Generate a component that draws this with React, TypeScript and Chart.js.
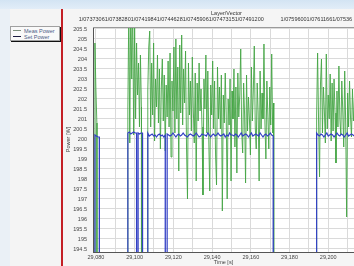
import React, { useEffect, useRef } from 'react';
import { Chart, registerables } from 'chart.js';

Chart.register(...registerables);

// ---- axis ranges / ticks ----
const X_MIN = 29078.5;
const X_MAX = 29213.3;
const Y_MIN = 194.35;
const Y_MAX = 205.6;
const MEAS_STEP = 0.5; // seconds between measured samples
const SET_STEP = 0.75; // seconds between set-point samples
const OFF_VALUE = 0; // laser off -> power drops to 0

const yTickValues = [194.5, 195, 195.5, 196, 196.5, 197, 197.5, 198, 198.5, 199, 199.5, 200, 200.5, 201, 201.5, 202, 202.5, 203, 203.5, 204, 204.5, 205, 205.5];
const xTickValues = [29080, 29090, 29100, 29110, 29120, 29130, 29140, 29150, 29160, 29170, 29180, 29190, 29200, 29210];
const xLabeledTicks = [29080, 29100, 29120, 29140, 29160, 29180, 29200];

const chartTitle = 'Layer/Vector';
const topLabels = ['1/07373061/07382801/07419841/07446281/07459061/07473151/07491200', '1/07596001/07611661/07536'];
const topLabelPos = [29118.9, 29175.4];

const seriesNames = ['Meas Power', 'Set Power'];

// ---- Meas Power (green) segments ----
const measStarts = [29079.5, 29096.5, 29106.8, 29194.0];
const measA = [204.8, 202.5, 200.8];
const measB = [201.5, 206.5, 199.8, 207.0, 203.0, 206.8, 200.2, 205.6, 201.0, 204.8, 202.2, 203.8, 200.6, 204.2, 201.6];
const measC = [
  202.4, 204.6, 205.4, 200.6, 203.8, 201.2, 204.8, 199.9, 203.0, 201.6,
  204.2, 200.8, 203.5, 199.5, 202.6, 204.0, 200.9, 203.2, 199.4, 202.7,
  201.1, 203.9, 200.6, 204.3, 199.1, 202.9, 201.4, 204.6, 200.3, 205.0,
  201.0, 203.6, 198.4, 204.7, 201.3, 205.2, 200.7, 203.5, 201.8, 204.4,
  199.6, 197.0, 203.8, 201.2, 202.9, 200.4, 204.1, 201.5, 199.8, 203.3,
  197.9, 202.8, 200.9, 203.8, 201.4, 202.5, 200.6, 197.2, 203.0, 201.5,
  204.2, 200.3, 203.4, 199.9, 197.4, 202.7, 201.2, 203.9, 200.5, 202.9,
  199.2, 197.7, 203.6, 201.0, 202.6, 200.5, 203.2, 196.4, 202.2, 200.8,
  203.3, 201.2, 197.0, 202.0, 200.7, 203.0, 197.9, 202.4, 201.0, 203.5,
  199.6, 202.6, 198.3, 203.3, 201.1, 202.2, 204.5, 200.4, 199.3, 202.8,
  201.2, 197.8, 203.2, 200.4, 202.1, 201.0, 199.2, 203.6, 200.9, 202.4,
  204.65, 200.6, 199.5, 202.8, 201.3, 197.9, 203.4, 200.5, 202.3, 201.0,
  204.75, 200.8, 199.0, 202.9, 201.2, 199.5, 202.6, 200.7, 204.25, 200.3,
  201.8,
];
const measD = [
  201.2, 204.3, 200.9, 198.1, 202.8, 204.0, 200.3, 202.6, 201.4, 199.8,
  204.25, 200.5, 202.2, 201.0, 203.25, 199.9, 202.8, 200.4, 203.0, 201.3,
  198.8, 202.4, 200.6, 203.65, 201.0, 200.2, 202.9, 201.4, 199.6, 203.4,
  200.8, 196.1, 202.3, 200.6, 202.9, 201.1, 200.1, 202.5, 200.9, 202.0,
];

// ---- Set Power (blue) segments ----
const setStarts = [29079.5, 29096.5, 29101.8, 29106.8, 29116.8, 29194.0];
const setA = [200.2, 200.15, 200.1, 200.1];
const setB1 = [200.3, 200.35, 200.25, 200.3, 200.35, 200.3, 200.3];
const setB2 = [200.3, 200.25, 200.3, 200.3];
const setC1 = [200.3, 200.15, 200.2, 200.25, 200.15, 200.2, 200.1, 200.2, 200.25, 200.15, 200.2, 200.1, 200.2];
const setC2 = [
  200.25, 200.2, 200.15, 200.2, 200.3, 200.2, 200.1, 200.2, 200.25, 200.15,
  200.2, 200.3, 200.2, 200.15, 200.1, 200.2, 200.25, 200.2, 200.15, 200.2,
  200.3, 200.2, 200.1, 200.15, 200.25, 200.2, 200.2, 200.15, 200.3, 200.2,
  200.1, 200.2, 200.25, 200.15, 200.2, 200.3, 200.2, 200.15, 200.2, 200.25,
  200.1, 200.2, 200.15, 200.3, 200.2, 200.2, 200.15, 200.25, 200.2, 200.1,
  200.2, 200.3, 200.15, 200.2, 200.25, 200.2, 200.1, 200.2, 200.3, 200.15,
  200.2, 200.25, 200.2, 200.15, 200.3, 200.2, 200.1, 200.2, 200.25, 200.15,
  200.2, 200.3, 200.2, 200.15,
];
const setD = [
  200.3, 200.2, 200.15, 200.25, 200.2, 200.1, 200.2, 200.3, 200.15, 200.2,
  200.25, 200.2, 200.1, 200.2, 200.3, 200.2, 200.15, 200.25, 200.2, 200.1,
  200.2, 200.3, 200.15, 200.2, 200.25, 200.2, 200.15,
];

function buildSeries(starts: number[], segs: number[][], step: number) {
  const pts: { x: number; y: number }[] = [];
  segs.forEach((vals, k) => {
    const t0 = starts[k];
    if (t0 > X_MIN) pts.push({ x: t0 - 0.05, y: OFF_VALUE });
    vals.forEach((v, i) => pts.push({ x: t0 + i * step, y: v }));
    const tEnd = t0 + (vals.length - 1) * step;
    if (tEnd < X_MAX) pts.push({ x: tEnd + 0.05, y: OFF_VALUE });
  });
  return pts;
}

const FONT = '"Liberation Sans", Arial, sans-serif';

const plotDecor = {
  id: 'plotDecor',
  beforeDraw(chart: any) {
    const { ctx, chartArea } = chart;
    ctx.save();
    ctx.fillStyle = '#ffffff';
    ctx.fillRect(chartArea.left, chartArea.top, chartArea.right - chartArea.left, chartArea.bottom - chartArea.top);
    ctx.restore();
  },
  afterDraw(chart: any) {
    const { ctx, chartArea } = chart;
    const xs = chart.scales.x;
    ctx.save();
    ctx.strokeStyle = '#9a9a9a';
    ctx.lineWidth = 1;
    ctx.beginPath();
    ctx.moveTo(chartArea.left, chartArea.top + 0.5);
    ctx.lineTo(chartArea.right, chartArea.top + 0.5);
    ctx.stroke();
    ctx.fillStyle = '#333';
    ctx.textBaseline = 'middle';
    ctx.font = '5.5px ' + FONT;
    ctx.textAlign = 'center';
    ctx.fillText(chartTitle, (chartArea.left + chartArea.right) / 2 + 3, 4);
    ctx.fillText(topLabels[0], xs.getPixelForValue(topLabelPos[0]), 10.5);
    ctx.textAlign = 'left';
    ctx.fillText(topLabels[1], xs.getPixelForValue(topLabelPos[1]), 10.5);
    ctx.restore();
  },
};

function PowerChart() {
  const ref = useRef<HTMLCanvasElement>(null);
  useEffect(() => {
    if (!ref.current) return;
    const chart = new Chart(ref.current, {
      type: 'line',
      data: {
        datasets: [
          {
            label: seriesNames[1],
            data: buildSeries(setStarts, [setA, setB1, setB2, setC1, setC2, setD], SET_STEP),
            borderColor: '#3340c4',
            borderWidth: 1.2,
            pointRadius: 0,
            tension: 0,
            order: 0,
          },
          {
            label: seriesNames[0],
            data: buildSeries(measStarts, [measA, measB, measC, measD], MEAS_STEP),
            borderColor: '#45a545',
            borderWidth: 0.9,
            pointRadius: 0,
            tension: 0,
            order: 1,
          },
        ],
      },
      options: {
        animation: false,
        responsive: false,
        parsing: false as any,
        normalized: true,
        layout: { padding: { top: 18, right: 0, left: 0, bottom: 0 } },
        plugins: { legend: { display: false }, tooltip: { enabled: false }, title: { display: false } },
        scales: {
          x: {
            type: 'linear',
            min: X_MIN,
            max: X_MAX,
            afterBuildTicks: (s: any) => { s.ticks = xTickValues.map((v) => ({ value: v })); },
            afterFit: (s: any) => { s.height = 14; },
            ticks: {
              autoSkip: false,
              maxRotation: 0,
              padding: 2,
              color: '#444',
              font: { size: 5.5, family: FONT },
              callback: (v: any) => (xLabeledTicks.includes(Number(v)) ? Number(v).toLocaleString('en-US') : ''),
            },
            grid: { color: '#dadada', drawTicks: false },
            border: { color: '#555', width: 1 },
            title: { display: true, text: 'Time [s]', color: '#444', font: { size: 5.5, family: FONT }, padding: 0 },
          },
          y: {
            type: 'linear',
            min: Y_MIN,
            max: Y_MAX,
            afterBuildTicks: (s: any) => { s.ticks = yTickValues.map((v) => ({ value: v })); },
            afterFit: (s: any) => { s.width = 30; },
            ticks: {
              padding: 6,
              color: '#444',
              font: { size: 5.5, family: FONT },
              callback: (v: any) => String(v),
            },
            grid: { color: '#dadada', drawTicks: false },
            border: { color: '#555', width: 1 },
            title: { display: true, text: 'Power [W]', color: '#444', font: { size: 5.5, family: FONT }, padding: { top: 2, bottom: 0 } },
          },
        },
      },
      plugins: [plotDecor],
    });
    return () => chart.destroy();
  }, []);
  return <canvas ref={ref} width={291} height={257} style={{ display: 'block' }} />;
}

export default function App() {
  return (
    <div style={{ position: 'fixed', left: 0, top: 0, width: 354, height: 266, overflow: 'hidden', background: '#eaf0f6', fontFamily: FONT }}>
      <div style={{ position: 'absolute', left: 0, top: 0, width: 354, height: 9, background: 'linear-gradient(to bottom, #d3e4f3, #e2edf8)' }} />
      <div style={{ position: 'absolute', left: 10, top: 9, width: 51, height: 257, background: '#f4f4f4' }} />
      <div style={{ position: 'absolute', left: 61, top: 9, width: 2, height: 257, background: '#c42026' }} />
      <div style={{ position: 'absolute', left: 63, top: 9, width: 291, height: 257, background: '#f5f5f5' }}>
        <PowerChart />
      </div>
      <div style={{ position: 'absolute', left: 10, top: 26, width: 48, height: 13, background: '#f9f9f9', border: '1px solid #a0a0a0', boxShadow: '1px 1px 0 #111', fontSize: 5.5, lineHeight: '6px', color: '#4b5a86' }}>
        <div style={{ display: 'flex', alignItems: 'center', height: 6, marginTop: 0.5 }}>
          <span style={{ display: 'inline-block', width: 8, height: 1, background: '#7d8f7d', margin: '0 3px 0 2px' }} />
          <span>{seriesNames[0]}</span>
        </div>
        <div style={{ display: 'flex', alignItems: 'center', height: 6 }}>
          <span style={{ display: 'inline-block', width: 8, height: 1, background: '#1a1a40', margin: '0 3px 0 2px' }} />
          <span>{seriesNames[1]}</span>
        </div>
      </div>
    </div>
  );
}
